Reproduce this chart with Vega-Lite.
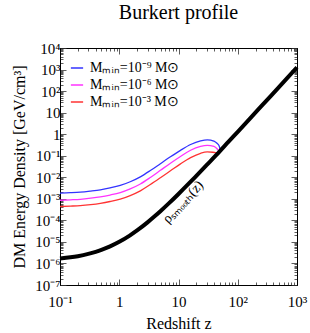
{
  "$schema": "https://vega.github.io/schema/vega-lite/v6.json",
  "width": 237,
  "height": 237,
  "autosize": "none",
  "padding": {"left": 60, "top": 48, "right": 13, "bottom": 48},
  "background": "white",
  "title": {"text": "Burkert profile", "font": "Liberation Serif", "fontSize": 20, "fontWeight": "normal", "color": "black", "anchor": "middle", "baseline": "alphabetic", "frame": "group", "offset": 2},
  "config": {
    "view": {"stroke": "black", "strokeWidth": 1},
    "axis": {"grid": false, "domainColor": "black", "tickColor": "#333", "tickWidth": 0.8, "labelFont": "Liberation Serif", "labelFontSize": 15, "labelColor": "black", "titleFont": "Liberation Serif", "titleFontSize": 16, "titleFontWeight": "normal", "titleColor": "black", "labelOverlap": false, "labelBound": false, "labelFlush": false},
    "legend": {"labelFont": "Liberation Serif", "labelFontSize": 14, "labelColor": "black"}
  },
  "datasets": {
    "smooth": [
      {"z": 0.1, "rho": 1.68e-6}, {"z": 0.15, "rho": 1.92e-6}, {"z": 0.2, "rho": 2.18e-6}, {"z": 0.3, "rho": 2.77e-6},
      {"z": 0.4, "rho": 3.46e-6}, {"z": 0.5, "rho": 4.25e-6}, {"z": 0.7, "rho": 6.19e-6}, {"z": 1, "rho": 1.01e-5},
      {"z": 1.5, "rho": 1.97e-5}, {"z": 2, "rho": 3.4e-5}, {"z": 3, "rho": 8.06e-5}, {"z": 4, "rho": 1.575e-4},
      {"z": 5, "rho": 2.72e-4}, {"z": 7, "rho": 6.45e-4}, {"z": 10, "rho": 1.68e-3}, {"z": 15, "rho": 5.16e-3},
      {"z": 20, "rho": 1.17e-2}, {"z": 30, "rho": 3.75e-2}, {"z": 50, "rho": 0.164}, {"z": 70, "rho": 0.451},
      {"z": 100, "rho": 1.285}, {"z": 200, "rho": 10.2}, {"z": 300, "rho": 34.3}, {"z": 500, "rho": 158},
      {"z": 700, "rho": 433}, {"z": 1000, "rho": 1264}
    ],
    "clumpy": [
      {"series": "Mₘᵢₙ=10⁻⁹ M⊙", "z": 0.1, "rho": 1.84e-3},
      {"series": "Mₘᵢₙ=10⁻⁹ M⊙", "z": 0.15, "rho": 1.92e-3},
      {"series": "Mₘᵢₙ=10⁻⁹ M⊙", "z": 0.22, "rho": 2.04e-3},
      {"series": "Mₘᵢₙ=10⁻⁹ M⊙", "z": 0.33, "rho": 2.3e-3},
      {"series": "Mₘᵢₙ=10⁻⁹ M⊙", "z": 0.48, "rho": 2.63e-3},
      {"series": "Mₘᵢₙ=10⁻⁹ M⊙", "z": 0.7, "rho": 3.2e-3},
      {"series": "Mₘᵢₙ=10⁻⁹ M⊙", "z": 1.04, "rho": 4.17e-3},
      {"series": "Mₘᵢₙ=10⁻⁹ M⊙", "z": 1.53, "rho": 6.2e-3},
      {"series": "Mₘᵢₙ=10⁻⁹ M⊙", "z": 2.27, "rho": 0.0105},
      {"series": "Mₘᵢₙ=10⁻⁹ M⊙", "z": 3.35, "rho": 0.0205},
      {"series": "Mₘᵢₙ=10⁻⁹ M⊙", "z": 4.95, "rho": 0.0427},
      {"series": "Mₘᵢₙ=10⁻⁹ M⊙", "z": 7.31, "rho": 0.089},
      {"series": "Mₘᵢₙ=10⁻⁹ M⊙", "z": 10.8, "rho": 0.178},
      {"series": "Mₘᵢₙ=10⁻⁹ M⊙", "z": 16, "rho": 0.331},
      {"series": "Mₘᵢₙ=10⁻⁹ M⊙", "z": 23.6, "rho": 0.49},
      {"series": "Mₘᵢₙ=10⁻⁹ M⊙", "z": 30.6, "rho": 0.55},
      {"series": "Mₘᵢₙ=10⁻⁹ M⊙", "z": 39.6, "rho": 0.48},
      {"series": "Mₘᵢₙ=10⁻⁹ M⊙", "z": 44.7, "rho": 0.38},
      {"series": "Mₘᵢₙ=10⁻⁹ M⊙", "z": 48.2, "rho": 0.3},
      {"series": "Mₘᵢₙ=10⁻⁹ M⊙", "z": 51, "rho": 0.185},
      {"series": "Mₘᵢₙ=10⁻⁶ M⊙", "z": 0.1, "rho": 8.6e-4},
      {"series": "Mₘᵢₙ=10⁻⁶ M⊙", "z": 0.15, "rho": 9.0e-4},
      {"series": "Mₘᵢₙ=10⁻⁶ M⊙", "z": 0.22, "rho": 9.5e-4},
      {"series": "Mₘᵢₙ=10⁻⁶ M⊙", "z": 0.33, "rho": 1.07e-3},
      {"series": "Mₘᵢₙ=10⁻⁶ M⊙", "z": 0.48, "rho": 1.23e-3},
      {"series": "Mₘᵢₙ=10⁻⁶ M⊙", "z": 0.7, "rho": 1.5e-3},
      {"series": "Mₘᵢₙ=10⁻⁶ M⊙", "z": 1.04, "rho": 1.95e-3},
      {"series": "Mₘᵢₙ=10⁻⁶ M⊙", "z": 1.53, "rho": 2.9e-3},
      {"series": "Mₘᵢₙ=10⁻⁶ M⊙", "z": 2.27, "rho": 4.9e-3},
      {"series": "Mₘᵢₙ=10⁻⁶ M⊙", "z": 3.35, "rho": 9.8e-3},
      {"series": "Mₘᵢₙ=10⁻⁶ M⊙", "z": 4.95, "rho": 0.021},
      {"series": "Mₘᵢₙ=10⁻⁶ M⊙", "z": 7.31, "rho": 0.045},
      {"series": "Mₘᵢₙ=10⁻⁶ M⊙", "z": 10.8, "rho": 0.092},
      {"series": "Mₘᵢₙ=10⁻⁶ M⊙", "z": 16, "rho": 0.18},
      {"series": "Mₘᵢₙ=10⁻⁶ M⊙", "z": 23.6, "rho": 0.27},
      {"series": "Mₘᵢₙ=10⁻⁶ M⊙", "z": 30.6, "rho": 0.3},
      {"series": "Mₘᵢₙ=10⁻⁶ M⊙", "z": 39.6, "rho": 0.27},
      {"series": "Mₘᵢₙ=10⁻⁶ M⊙", "z": 44.7, "rho": 0.21},
      {"series": "Mₘᵢₙ=10⁻⁶ M⊙", "z": 48.5, "rho": 0.153},
      {"series": "Mₘᵢₙ=10⁻³ M⊙", "z": 0.1, "rho": 4.4e-4},
      {"series": "Mₘᵢₙ=10⁻³ M⊙", "z": 0.15, "rho": 4.6e-4},
      {"series": "Mₘᵢₙ=10⁻³ M⊙", "z": 0.22, "rho": 4.85e-4},
      {"series": "Mₘᵢₙ=10⁻³ M⊙", "z": 0.33, "rho": 5.4e-4},
      {"series": "Mₘᵢₙ=10⁻³ M⊙", "z": 0.48, "rho": 6.2e-4},
      {"series": "Mₘᵢₙ=10⁻³ M⊙", "z": 0.7, "rho": 7.5e-4},
      {"series": "Mₘᵢₙ=10⁻³ M⊙", "z": 1.04, "rho": 9.7e-4},
      {"series": "Mₘᵢₙ=10⁻³ M⊙", "z": 1.53, "rho": 1.42e-3},
      {"series": "Mₘᵢₙ=10⁻³ M⊙", "z": 2.27, "rho": 2.35e-3},
      {"series": "Mₘᵢₙ=10⁻³ M⊙", "z": 3.35, "rho": 4.6e-3},
      {"series": "Mₘᵢₙ=10⁻³ M⊙", "z": 4.95, "rho": 9.5e-3},
      {"series": "Mₘᵢₙ=10⁻³ M⊙", "z": 7.31, "rho": 0.02},
      {"series": "Mₘᵢₙ=10⁻³ M⊙", "z": 10.8, "rho": 0.042},
      {"series": "Mₘᵢₙ=10⁻³ M⊙", "z": 16, "rho": 0.082},
      {"series": "Mₘᵢₙ=10⁻³ M⊙", "z": 23.6, "rho": 0.13},
      {"series": "Mₘᵢₙ=10⁻³ M⊙", "z": 30.6, "rho": 0.15},
      {"series": "Mₘᵢₙ=10⁻³ M⊙", "z": 38, "rho": 0.145},
      {"series": "Mₘᵢₙ=10⁻³ M⊙", "z": 43, "rho": 0.138},
      {"series": "Mₘᵢₙ=10⁻³ M⊙", "z": 46.5, "rho": 0.135}
    ],
    "note": [{"z": 12, "rho": 7e-4, "label": "ρₛₘₒₒₜₕ(z)"}]
  },
  "layer": [
    {
      "data": {"name": "clumpy"},
      "mark": {"type": "line", "strokeWidth": 1.3, "interpolate": "monotone"},
      "encoding": {
        "x": {"field": "z", "type": "quantitative",
          "scale": {"type": "log", "domain": [0.1, 1000], "nice": false},
          "axis": {"orient": "bottom", "title": "Redshift z", "titlePadding": 3,
            "values": [0.1,0.2,0.3,0.4,0.5,0.6,0.7,0.8,0.9,1,2,3,4,5,6,7,8,9,10,20,30,40,50,60,70,80,90,100,200,300,400,500,600,700,800,900,1000],
            "tickSize": {"condition": {"test": "abs(log(datum.value)/LN10 - round(log(datum.value)/LN10)) < 0.001", "value": -6}, "value": -3},
            "labelPadding": 15,
            "labelExpr": "abs(log(datum.value)/LN10 - round(log(datum.value)/LN10)) > 0.001 ? '' : ['10⁻¹','1','10','10²','10³'][round(log(datum.value)/LN10)+1]"}},
        "y": {"field": "rho", "type": "quantitative",
          "scale": {"type": "log", "domain": [1e-7, 1e4], "nice": false},
          "axis": {"orient": "left", "title": "DM Energy Density [GeV/cm³]", "titlePadding": 7,
            "values": [1e-7,2e-7,3e-7,4e-7,5e-7,6e-7,7e-7,8e-7,9e-7,1e-6,2e-6,3e-6,4e-6,5e-6,6e-6,7e-6,8e-6,9e-6,1e-5,2e-5,3e-5,4e-5,5e-5,6e-5,7e-5,8e-5,9e-5,1e-4,2e-4,3e-4,4e-4,5e-4,6e-4,7e-4,8e-4,9e-4,1e-3,2e-3,3e-3,4e-3,5e-3,6e-3,7e-3,8e-3,9e-3,0.01,0.02,0.03,0.04,0.05,0.06,0.07,0.08,0.09,0.1,0.2,0.3,0.4,0.5,0.6,0.7,0.8,0.9,1,2,3,4,5,6,7,8,9,10,20,30,40,50,60,70,80,90,100,200,300,400,500,600,700,800,900,1000,2000,3000,4000,5000,6000,7000,8000,9000,10000],
            "tickSize": {"condition": {"test": "abs(log(datum.value)/LN10 - round(log(datum.value)/LN10)) < 0.001", "value": -6}, "value": -3},
            "labelPadding": 6,
            "labelExpr": "abs(log(datum.value)/LN10 - round(log(datum.value)/LN10)) > 0.001 ? '' : ['10⁻⁷','10⁻⁶','10⁻⁵','10⁻⁴','10⁻³','10⁻²','10⁻¹','1','10','10²','10³','10⁴'][round(log(datum.value)/LN10)+7]"}},
        "color": {"field": "series", "type": "nominal",
          "scale": {"domain": ["Mₘᵢₙ=10⁻⁹ M⊙", "Mₘᵢₙ=10⁻⁶ M⊙", "Mₘᵢₙ=10⁻³ M⊙"], "range": ["#3333ff", "#ff33ff", "#ff3333"]},
          "legend": {"orient": "none", "legendX": 10, "legendY": 13, "title": null, "symbolType": "stroke", "symbolStrokeWidth": 1.5, "symbolSize": 150, "rowPadding": 3, "labelOffset": 6}}
      }
    },
    {
      "data": {"name": "smooth"},
      "mark": {"type": "line", "strokeWidth": 4, "color": "black", "interpolate": "monotone"},
      "encoding": {
        "x": {"field": "z", "type": "quantitative",
          "axis": {"orient": "top", "title": null, "labels": false,
            "values": [0.1,0.2,0.3,0.4,0.5,0.6,0.7,0.8,0.9,1,2,3,4,5,6,7,8,9,10,20,30,40,50,60,70,80,90,100,200,300,400,500,600,700,800,900,1000],
            "tickSize": {"condition": {"test": "abs(log(datum.value)/LN10 - round(log(datum.value)/LN10)) < 0.001", "value": -6}, "value": -3}}},
        "y": {"field": "rho", "type": "quantitative",
          "axis": {"orient": "right", "title": null, "labels": false,
            "values": [1e-7,2e-7,3e-7,4e-7,5e-7,6e-7,7e-7,8e-7,9e-7,1e-6,2e-6,3e-6,4e-6,5e-6,6e-6,7e-6,8e-6,9e-6,1e-5,2e-5,3e-5,4e-5,5e-5,6e-5,7e-5,8e-5,9e-5,1e-4,2e-4,3e-4,4e-4,5e-4,6e-4,7e-4,8e-4,9e-4,1e-3,2e-3,3e-3,4e-3,5e-3,6e-3,7e-3,8e-3,9e-3,0.01,0.02,0.03,0.04,0.05,0.06,0.07,0.08,0.09,0.1,0.2,0.3,0.4,0.5,0.6,0.7,0.8,0.9,1,2,3,4,5,6,7,8,9,10,20,30,40,50,60,70,80,90,100,200,300,400,500,600,700,800,900,1000,2000,3000,4000,5000,6000,7000,8000,9000,10000],
            "tickSize": {"condition": {"test": "abs(log(datum.value)/LN10 - round(log(datum.value)/LN10)) < 0.001", "value": -6}, "value": -3}}}
      }
    },
    {
      "data": {"name": "note"},
      "mark": {"type": "text", "angle": 313, "font": "Liberation Serif", "fontSize": 14, "color": "black", "align": "center", "baseline": "middle"},
      "encoding": {
        "x": {"field": "z", "type": "quantitative", "axis": null},
        "y": {"field": "rho", "type": "quantitative", "axis": null},
        "text": {"field": "label"}
      }
    }
  ],
  "resolve": {"axis": {"x": "independent", "y": "independent"}}
}
